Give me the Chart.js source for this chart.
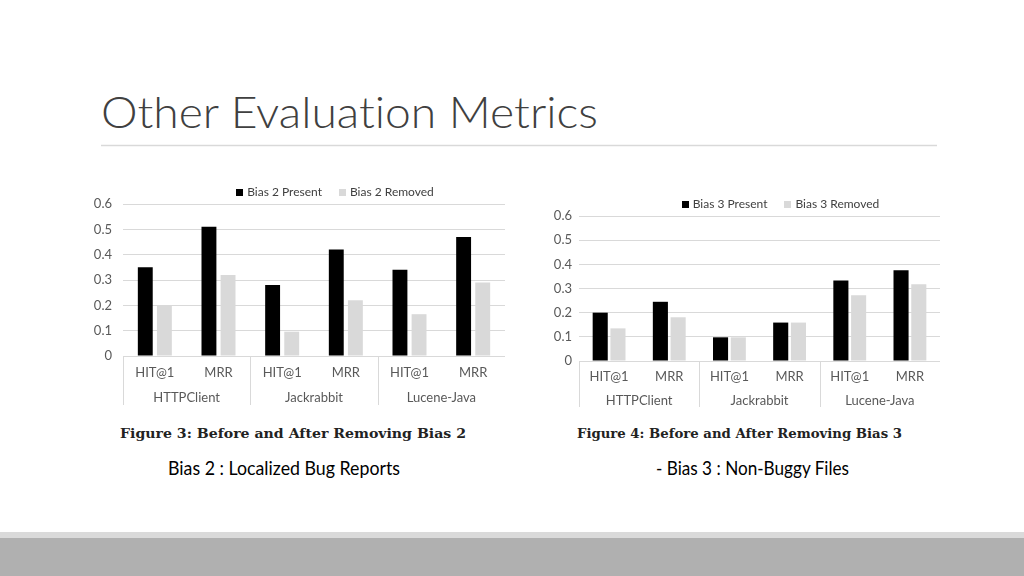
<!DOCTYPE html>
<html>
<head>
<meta charset="utf-8">
<script src="https://cdn.jsdelivr.net/npm/chart.js@4.4.0/dist/chart.umd.min.js"></script>
<style>
  body { margin: 0; width: 1024px; height: 576px; position: relative; overflow: hidden; background: #fff; }
  canvas { position: absolute; }
  #fig3 { left: 80px; top: 180px; }
  #fig4 { left: 540px; top: 190px; }
  svg { position: absolute; left: 0; top: 0; font-variant-ligatures: none; }
</style>
</head>
<body>
<svg width="1024" height="576">
  <text x="101" y="128" font-family="Lato" font-weight="300" font-size="44" fill="#404040" textLength="497" lengthAdjust="spacingAndGlyphs">Other Evaluation Metrics</text>
  <line x1="101" y1="145.5" x2="937" y2="145.5" stroke="#d9d9d9" stroke-width="1.5"/>
  <text x="120" y="438" font-family="DejaVu Serif" font-weight="bold" font-size="13" fill="#222" textLength="346" lengthAdjust="spacingAndGlyphs">Figure 3: Before and After Removing Bias 2</text>
  <text x="577" y="438" font-family="DejaVu Serif" font-weight="bold" font-size="13" fill="#222" textLength="325" lengthAdjust="spacingAndGlyphs">Figure 4: Before and After Removing Bias 3</text>
  <text x="168" y="475" font-family="Lato" font-size="19" fill="#000" textLength="232" lengthAdjust="spacingAndGlyphs">Bias 2 : Localized Bug Reports</text>
  <text x="656" y="475" font-family="Lato" font-size="19" fill="#000" textLength="193" lengthAdjust="spacingAndGlyphs">- Bias 3 : Non-Buggy Files</text>
  <rect x="0" y="532" width="1024" height="6" fill="#dadada"/>
  <rect x="0" y="538" width="1024" height="38" fill="#b0b0b0"/>
</svg>
<canvas id="fig3" width="440" height="235"></canvas>
<canvas id="fig4" width="420" height="230"></canvas>
<script>
// data
var metrics = ['HIT@1', 'MRR', 'HIT@1', 'MRR', 'HIT@1', 'MRR'];
var projects = ['HTTPClient', 'Jackrabbit', 'Lucene-Java'];
var yTicks = [0, 0.1, 0.2, 0.3, 0.4, 0.5, 0.6];

var bias2Present = [0.35, 0.51, 0.28, 0.42, 0.34, 0.47];
var bias2Removed = [0.20, 0.32, 0.096, 0.22, 0.165, 0.29];
var bias3Present = [0.20, 0.245, 0.098, 0.159, 0.333, 0.376];
var bias3Removed = [0.135, 0.181, 0.098, 0.159, 0.272, 0.318];

Chart.defaults.font.family = 'Lato';
Chart.defaults.color = '#595959';

// vertical separators under the axis, between the project groups
var groupLines = {
	id: 'groupLines',
	afterDraw: function(chart) {
		var ctx = chart.ctx, x = chart.scales.x, x2 = chart.scales.x2, a = chart.chartArea;
		var per = metrics.length / projects.length;
		var xs = [a.left];
		for (var i = per; i < metrics.length; i += per) {
			xs.push((x.getPixelForValue(i - 1) + x.getPixelForValue(i)) / 2);
		}
		ctx.save();
		ctx.strokeStyle = '#d9d9d9';
		ctx.lineWidth = 1;
		xs.forEach(function(px) {
			ctx.beginPath();
			ctx.moveTo(Math.round(px) + 0.5, a.bottom);
			ctx.lineTo(Math.round(px) + 0.5, x2.bottom);
			ctx.stroke();
		});
		ctx.restore();
	}
};

// small legend above the plot, a bit right of centre like the original
var topLegend = {
	id: 'topLegend',
	afterDraw: function(chart, args, opts) {
		var ctx = chart.ctx, a = chart.chartArea;
		ctx.save();
		ctx.font = opts.size + 'px Lato';
		var items = chart.data.datasets.map(function(d) {
			return { label: d.label, color: d.backgroundColor, w: opts.box + opts.gap + ctx.measureText(d.label).width };
		});
		var total = items.reduce(function(s, it) { return s + it.w; }, 0) + opts.spacing * (items.length - 1);
		var px = (a.left + a.right) / 2 + opts.offset - total / 2;
		var py = a.top - opts.lift;
		ctx.textBaseline = 'middle';
		items.forEach(function(it) {
			ctx.fillStyle = it.color;
			ctx.fillRect(Math.round(px), Math.round(py - opts.box / 2), opts.box, opts.box);
			ctx.fillStyle = '#404040';
			ctx.fillText(it.label, px + opts.box + opts.gap, py + 0.5);
			px += it.w + opts.spacing;
		});
		ctx.restore();
	}
};

function makeChart(id, names, present, removed, g) {
	var ctx = document.getElementById(id);
	return new Chart(ctx, {
		type: 'bar',
		data: {
			labels: metrics,
			datasets: [
				{ label: names[0], data: present, backgroundColor: '#000000', xAxisID: 'x',
				  categoryPercentage: g.cat, barPercentage: g.bar },
				{ label: names[1], data: removed, backgroundColor: '#d9d9d9', xAxisID: 'x',
				  categoryPercentage: g.cat, barPercentage: g.bar }
			]
		},
		options: {
			responsive: false,
			animation: false,
			devicePixelRatio: 1,
			layout: { padding: { left: 0, right: g.right, top: g.top, bottom: g.bottom } },
			plugins: {
				legend: { display: false },
				tooltip: { enabled: false },
				topLegend: { size: 12, box: 7, gap: 4, spacing: 17, offset: 21, lift: g.lift }
			},
			scales: {
				y: {
					min: 0, max: 0.6,
					afterFit: function(s) { s.width = g.yWidth; },
					afterBuildTicks: function(s) { s.ticks = yTicks.map(function(v) { return { value: v }; }); },
					ticks: {
						padding: g.yPad,
						font: { size: 13 },
						callback: function(v) { return v === 0 ? '0' : v.toFixed(1); }
					},
					grid: { color: '#d9d9d9', drawTicks: false },
					border: { display: false }
				},
				x: {
					afterFit: function(s) { s.height = g.xH; },
					ticks: { padding: g.xPad, font: { size: 13 } },
					grid: { display: false, drawTicks: false },
					border: { display: false }
				},
				x2: {
					type: 'category',
					position: 'bottom',
					labels: projects,
					offset: true,
					afterFit: function(s) { s.height = g.x2H; },
					ticks: { padding: g.x2Pad, font: { size: 13 } },
					grid: { display: false, drawTicks: false },
					border: { display: false }
				}
			}
		},
		plugins: [groupLines, topLegend]
	});
}

makeChart('fig3', ['Bias 2 Present', 'Bias 2 Removed'], bias2Present, bias2Removed,
	{ cat: 0.6, bar: 0.78, right: 15, top: 24, bottom: 10, yWidth: 43, yPad: 11,
	  xH: 23, xPad: 9, x2H: 26, x2Pad: 11, lift: 12 });

makeChart('fig4', ['Bias 3 Present', 'Bias 3 Removed'], bias3Present, bias3Removed,
	{ cat: 0.59, bar: 0.85, right: 20, top: 26, bottom: 13, yWidth: 39, yPad: 7,
	  xH: 22, xPad: 8, x2H: 24, x2Pad: 10, lift: 12 });
</script>
</body>
</html>
